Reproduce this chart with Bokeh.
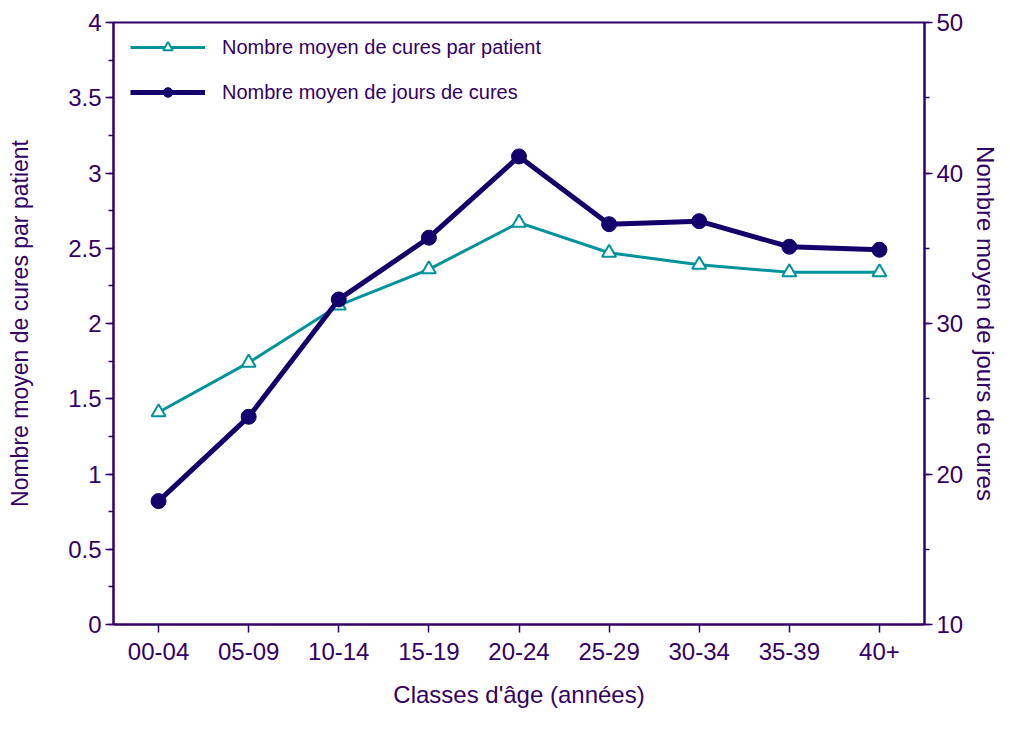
from bokeh.plotting import figure
from bokeh.models import LinearAxis, Range1d, FactorRange, Legend, LegendItem, SingleIntervalTicker, FixedTicker
from bokeh.embed import file_html
from bokeh.resources import INLINE

categories = ["00-04", "05-09", "10-14", "15-19", "20-24", "25-29", "30-34", "35-39", "40+"]
cures_par_patient = [1.41, 1.74, 2.12, 2.36, 2.67, 2.47, 2.39, 2.34, 2.34]
jours_de_cures = [18.2, 23.8, 31.6, 35.7, 41.1, 36.6, 36.8, 35.1, 34.9]

TEXT = "#330066"
TEAL = "#00939B"
NAVY = "#12006B"
FONT = "Liberation Sans"

p = figure(width=1002, height=717, x_range=FactorRange(factors=categories, range_padding=0),
           y_range=Range1d(0, 4), output_backend="svg", toolbar_location=None,
           min_border_left=113, min_border_right=72, min_border_top=22, min_border_bottom=93)
p.extra_y_ranges = {"jours": Range1d(10, 50)}

p.xgrid.visible = False
p.ygrid.visible = False
p.outline_line_color = TEXT
p.outline_line_width = 2
p.background_fill_color = "white"
p.border_fill_color = "white"

# series
r1 = p.line(categories, cures_par_patient, color=TEAL, line_width=3)
r1m = p.scatter(categories, cures_par_patient, marker="triangle", size=14, fill_color="white",
                line_color=TEAL, line_width=2)
r2 = p.line(categories, jours_de_cures, color=NAVY, line_width=5, y_range_name="jours")
r2m = p.scatter(categories, jours_de_cures, marker="circle", size=15, fill_color=NAVY,
                line_color=NAVY, y_range_name="jours")

right = LinearAxis(y_range_name="jours", axis_label="Nombre moyen de jours de cures",
                   ticker=SingleIntervalTicker(interval=10, num_minor_ticks=2))
p.add_layout(right, "right")

p.yaxis[0].ticker = FixedTicker(ticks=[0, 0.5, 1, 1.5, 2, 2.5, 3, 3.5, 4],
                                minor_ticks=[x * 0.25 for x in range(17)])
p.yaxis[0].axis_label = "Nombre moyen de cures par patient"
p.xaxis.axis_label = "Classes d'âge (années)"

for ax in [p.xaxis[0], p.yaxis[0], right]:
    ax.axis_line_color = TEXT
    ax.axis_line_width = 2
    ax.major_tick_line_color = TEXT
    ax.minor_tick_line_color = TEXT
    ax.major_tick_line_width = 1.5
    ax.minor_tick_line_width = 1.5
    ax.major_tick_out = 8
    ax.major_tick_in = 0
    ax.minor_tick_out = 5
    ax.minor_tick_in = 0
    ax.major_label_text_color = TEXT
    ax.major_label_text_font = FONT
    ax.major_label_text_font_size = "24px"
    ax.axis_label_text_color = TEXT
    ax.axis_label_text_font = FONT
    ax.axis_label_text_font_size = "24px"
    ax.axis_label_text_font_style = "normal"

p.yaxis[0].axis_label_text_font_size = "23px"
p.yaxis[0].major_label_standoff = 4
p.yaxis[0].axis_label_standoff = 32
right.major_label_standoff = 4
right.axis_label_standoff = 6
p.xaxis[0].major_label_standoff = 10
p.xaxis[0].axis_label_standoff = 18
p.xaxis[0].minor_tick_out = 0

legend = Legend(items=[
    LegendItem(label="Nombre moyen de cures par patient", renderers=[r1, r1m]),
    LegendItem(label="Nombre moyen de jours de cures", renderers=[r2, r2m]),
], location=(17, 520), orientation="vertical")
legend.border_line_color = None
legend.background_fill_alpha = 0
legend.margin = 0
legend.padding = 0
legend.glyph_width = 75
legend.glyph_height = 24
legend.label_height = 24
legend.spacing = 21
legend.label_standoff = 17
legend.label_text_font = FONT
legend.label_text_font_size = "20px"
legend.label_text_color = TEXT
p.add_layout(legend, "center")

open("out.html", "w").write(file_html(p, INLINE))
